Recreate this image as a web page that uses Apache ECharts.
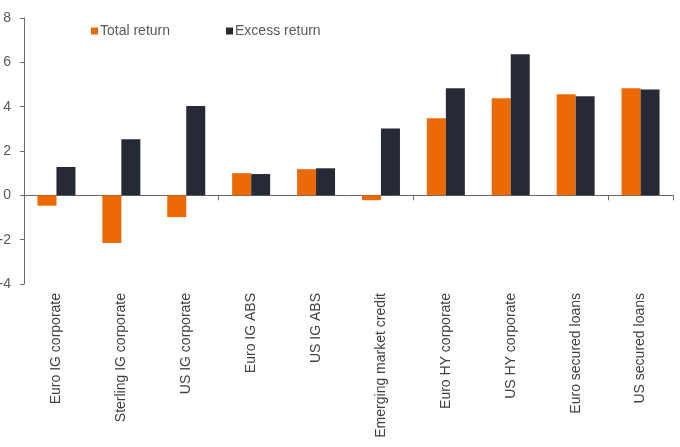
<!DOCTYPE html>
<html><head><meta charset="utf-8">
<script src="https://cdn.jsdelivr.net/npm/echarts@6/dist/echarts.min.js"></script>
<style>html,body{margin:0;padding:0;background:#fff}#c{width:680px;height:447px}</style>
</head><body><div id="c"></div>
<script>
const categories = ["Euro IG corporate","Sterling IG corporate","US IG corporate","Euro IG ABS","US IG ABS","Emerging market credit","Euro HY corporate","US HY corporate","Euro secured loans","US secured loans"];
const totalReturn = [-0.47, -2.15, -0.98, 1.0, 1.18, -0.22, 3.48, 4.38, 4.56, 4.83];
const excessReturn = [1.28, 2.53, 4.03, 0.96, 1.22, 3.02, 4.83, 6.36, 4.47, 4.78];
const yTicks = {min: -4, max: 8, interval: 2};

const gray = '#595959';
const lineCol = '#6a6a6a';
const chart = echarts.init(document.getElementById('c'));
chart.setOption({
  animation: false,
  textStyle: {fontFamily: 'Liberation Sans, Arial, sans-serif'},
  legend: {
    left: 86, top: 19, itemWidth: 7, itemHeight: 7, itemGap: 56,
    icon: 'rect',
    textStyle: {color: gray, fontSize: 14, padding: [0,0,0,-3]},
    data: ['Total return', 'Excess return']
  },
  grid: {left: 24, right: 7, top: 18, bottom: 163, containLabel: false, outerBoundsMode: 'none'},
  xAxis: [{
    type: 'category', data: categories,
    axisLine: {onZero: true, lineStyle: {color: lineCol, width: 1}},
    axisTick: {show: true, length: 5, lineStyle: {color: lineCol}},
    axisLabel: {show: false}
  }, {
    type: 'category', data: categories, position: 'bottom',
    axisLine: {show: false, onZero: false}, axisTick: {show: false},
    axisLabel: {rotate: 90, color: '#404040', fontSize: 14, margin: 9, interval: 0}
  }],
  yAxis: {
    type: 'value', min: yTicks.min, max: yTicks.max, interval: yTicks.interval,
    splitLine: {show: false},
    axisLine: {show: true, lineStyle: {color: lineCol}},
    axisTick: {show: true, length: 4, lineStyle: {color: lineCol}},
    axisLabel: {color: gray, fontSize: 14, margin: 13}
  },
  series: [{
    name: 'Total return', type: 'bar', data: totalReturn, barWidth: 19, barGap: '0%',
    itemStyle: {color: '#EC6A05'}
  }, {
    name: 'Excess return', type: 'bar', data: excessReturn, barWidth: 19, barGap: '0%',
    itemStyle: {color: '#262A35'}
  }]
});
</script></body></html>
